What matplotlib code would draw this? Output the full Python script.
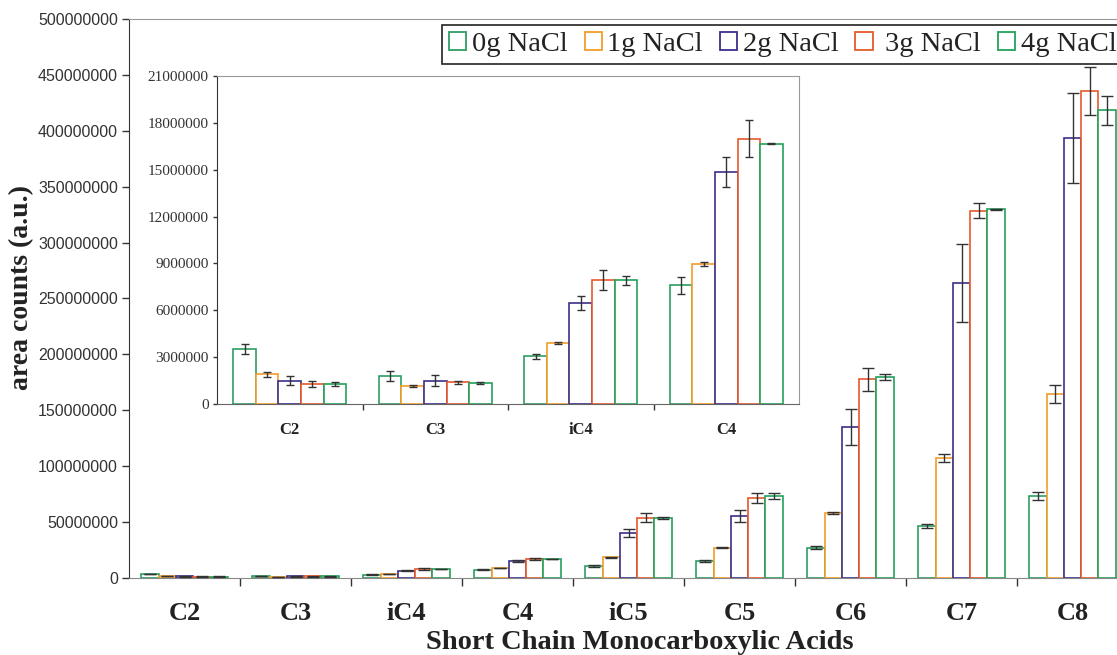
import matplotlib.pyplot as plt
import numpy as np
from matplotlib.patches import Rectangle

# short chain acids, peak area counts for 0-4 g NaCl
acids = ['C2', 'C3', 'iC4', 'C4', 'iC5', 'C5', 'C6', 'C7', 'C8']
salts = ['0g NaCl', '1g NaCl', '2g NaCl', ' 3g NaCl', '4g NaCl']
colors = ['#2e9e63', '#f39c29', '#3b2f8a', '#e5592b', '#22a25a']

# values in millions
g0 = [3.50, 1.81, 3.07, 7.59, 11.0, 15.5, 27.1, 46.5, 73.1]
g1 = [1.90, 1.17, 3.90, 8.98, 18.5, 27.1, 58.4, 107.1, 164.3]
g2 = [1.49, 1.49, 6.44, 14.88, 40.2, 55.2, 135.0, 263.6, 393.6]
g3 = [1.28, 1.39, 7.93, 16.99, 53.7, 71.3, 177.7, 328.3, 435.9]
g4 = [1.28, 1.36, 7.91, 16.67, 53.7, 73.1, 179.5, 329.8, 418.3]

e0 = [0.33, 0.33, 0.16, 0.54, 0.8, 0.8, 1.5, 1.8, 3.7]
e1 = [0.15, 0.05, 0.05, 0.12, 0.6, 0.3, 1.0, 3.6, 8.0]
e2 = [0.30, 0.36, 0.45, 0.96, 3.9, 5.4, 16.4, 35.0, 40.0]
e3 = [0.22, 0.10, 0.64, 1.17, 4.0, 4.6, 10.4, 6.7, 21.5]
e4 = [0.10, 0.07, 0.30, 0.02, 0.5, 2.5, 2.8, 0.3, 13.0]

vals = np.array([g0, g1, g2, g3, g4]) * 1e6
errs = np.array([e0, e1, e2, e3, e4]) * 1e6

W, H = 1117, 655
fig = plt.figure(figsize=(W / 100, H / 100), dpi=100)

bw = 0.155
serif = 'Liberation Serif'
sans = 'Liberation Sans'


def draw_bars(ax, n, cap, lw):
    x = np.arange(n)
    for i in range(5):
        ax.bar(x + (i - 2) * bw, vals[i, :n], bw, facecolor='white',
               edgecolor=colors[i], linewidth=lw, zorder=2)
        ax.errorbar(x + (i - 2) * bw, vals[i, :n], yerr=errs[i, :n], fmt='none',
                    ecolor='#333333', elinewidth=1.0, capsize=cap, capthick=1.0,
                    zorder=3)
    ax.set_xlim(-0.5, n - 0.5)
    ax.set_xticks(x)
    ax.set_xticks(np.arange(n - 1) + 0.5, minor=True)
    ax.tick_params(axis='x', which='major', length=0)


# main axes
ax = fig.add_axes([129 / W, 1 - 578 / H, 999 / W, 559 / H])
draw_bars(ax, 9, 4, 1.2)
ax.set_ylim(0, 500000000)
ax.set_yticks(np.arange(0, 500000001, 50000000))
ax.set_yticklabels([str(v) for v in range(0, 500000001, 50000000)],
                   fontfamily=sans, fontsize=11.5, color='#333333')
ax.tick_params(axis='y', length=5, width=1, color='#333333', pad=3)
ax.tick_params(axis='x', which='minor', length=6, width=1, color='#333333')
ax.set_xticklabels(acids, fontfamily=serif, fontweight='bold', fontsize=19,
                   color='#222222')
ax.tick_params(axis='x', which='major', pad=17)
ax.spines['right'].set_visible(False)
ax.spines['top'].set_color('#999999')
ax.spines['bottom'].set_color('#888888')
ax.spines['left'].set_color('#333333')
ax.set_xlabel('Short Chain Monocarboxylic Acids', fontfamily=serif,
              fontweight='bold', fontsize=20.5, color='#222222')
ax.xaxis.set_label_coords((640 - 129) / 999, -(630 - 578) / 559)
ax.set_ylabel('area counts (a.u.)', fontfamily=serif, fontweight='bold',
              fontsize=20, color='#222222')
ax.yaxis.set_label_coords(-(129 - 34) / 999, (578 - 287) / 559)

# inset
ins = fig.add_axes([217 / W, 1 - 404 / H, 582 / W, 328 / H])
draw_bars(ins, 4, 3, 1.2)
ins.set_ylim(0, 21000000)
ins.set_yticks(np.arange(0, 21000001, 3000000))
ins.set_yticklabels([str(v) for v in range(0, 21000001, 3000000)],
                    fontfamily=serif, fontsize=11, color='#333333')
ins.tick_params(axis='y', length=3, width=1, color='#333333', pad=3)
ins.tick_params(axis='x', which='minor', length=4, width=1, color='#333333')
ins.set_xticklabels(acids[:4], fontfamily=serif, fontweight='bold', fontsize=12,
                    color='#222222')
ins.tick_params(axis='x', which='major', pad=13)
for s in ['top', 'right']:
    ins.spines[s].set_color('#999999')
ins.spines['bottom'].set_color('#666666')
ins.spines['left'].set_color('#333333')

# legend with open square markers
handles = [Rectangle((0, 0), 1, 1, facecolor='white', edgecolor=c, linewidth=1.3)
           for c in colors]
leg = fig.legend(handles, salts, loc='upper left',
                 bbox_to_anchor=(442 / W, 1 - 25 / H), ncol=5,
                 prop={'family': serif, 'size': 20.5}, frameon=True, fancybox=False,
                 edgecolor='#222222', framealpha=1, borderpad=0.25,
                 handlelength=0.6, handleheight=0.6, handletextpad=0.2,
                 columnspacing=0.6, borderaxespad=0)
leg.get_frame().set_linewidth(1.2)
for t in leg.get_texts():
    t.set_color('#222222')

fig.savefig('out.png', dpi=100)
